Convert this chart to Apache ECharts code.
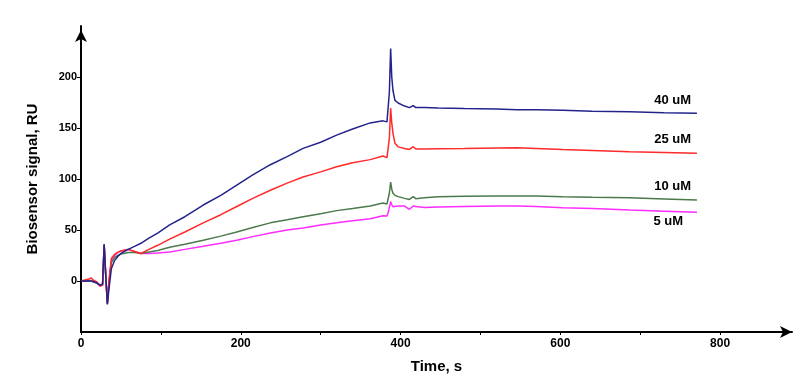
<!DOCTYPE html>
<html>
<head>
<meta charset="utf-8">
<script src="https://cdn.jsdelivr.net/npm/echarts@6/dist/echarts.min.js"></script>
<style>html,body{margin:0;padding:0;background:#fff}#c{width:800px;height:387px}</style>
</head>
<body>
<div id="c"></div>
<script>
// Time points (s)
var times = [0,10,13,15,20,24,27,29,31,33,
  35,38,42,46,50,59,67,75,85,96,
  111,130,153,175,195,215,237,258,278,300,
  320,340,362,378,383,384,386,387.6,389,390.5,
  393,397,405,411,416,419,430,447,480,520,
  546,570,603,640,687,730,771];

// Biosensor signal (RU) per concentration
var s40 = [0,0,0,-1,-2,-4,-3,36,5,-23,
  -8,12,20,24,27,31,34,37,42,47,
  55,63,74.5,84,94,104,114,122,130,136,
  143,149,155,157,156,157,185,228,200,187,
  177,174.5,171.5,170,172,170,170,169.6,169,168.6,
  168,168,167.5,166.5,166,165,164.4];
var s25 = [0,2,3,1,-1,-5,-4,36,5,-22,
  0,22,26,28,29.5,31,29,27,31,35,
  41,48,57,65,73,81,89,96,102,107,
  112,116,119,122.5,121,122.5,140,169.6,155,145,
  135,131.5,130,129,131.7,129.4,129.5,129.7,130,130.5,
  130.7,130,129,128,126.8,126,125.2];
var s10 = [0,0,0,-1,-2,-4,-4,35,5,-22,
  -2,18,23,25,26.5,28,28,27,28.5,30,
  33,36,40,44,48,52.5,57,60,63,66,
  69,71,73.5,76.5,75.5,77,86,97,90,86,
  84,82.7,81,80,82.7,80.7,81.5,82.7,83,83.3,
  83.3,83.3,82.5,82,81.7,80.5,79.4];
var s5 = [0,0,0,-1,-2,-5,-4,35,5,-22,
  0,20,25,28,29.5,31,29,27,27,27.5,
  28.5,31,34,37,40,43.5,47,50,52,55,
  57,59,61,64,63.7,65.7,72,77.8,75,72.9,
  73,73.5,73.5,70.3,73.5,73,72,72.5,73,73.5,
  73.5,73,71.9,71,69.6,68.5,67.3];

var seriesNames = ['40 uM','25 uM','10 uM','5 uM'];
var xTickLabels = [0,200,400,600,800];
var xMinorTicks = [0,100,200,300,400,500,600,700,800];
var yTickLabels = [0,50,100,150,200];

function zip(v){ return times.map(function(t,i){ return [t, v[i]]; }); }

var colors = ['#23238c','#ff2a2a','#4b7a4b','#ff2cff'];
var allVals = [s40, s25, s10, s5];
var font = 'Liberation Sans, Arial, sans-serif';

var chart = echarts.init(document.getElementById('c'), null, {renderer:'canvas'});
chart.setOption({
  animation:false,
  backgroundColor:'#fff',
  grid:{left:81, right:8, top:26, bottom:55, containLabel:false},
  xAxis:{
    type:'value', min:0, max:890,
    name:'Time, s', nameLocation:'middle', nameGap:27,
    nameTextStyle:{fontFamily:font, fontWeight:'bold', fontSize:15, color:'#000'},
    axisLine:{show:true, onZero:false, lineStyle:{color:'#000', width:2}, symbol:['none','arrow'], symbolSize:[9,12], symbolOffset:[0,0]},
    axisTick:{show:true, customValues:xMinorTicks, length:3, lineStyle:{color:'#000', width:1}},
    axisLabel:{customValues:xTickLabels, fontFamily:'Liberation Sans Narrow, Arial Narrow, sans-serif', fontWeight:'bold', fontSize:12, color:'#000', margin:6},
    splitLine:{show:false}
  },
  yAxis:{
    type:'value', min:-50, max:250,
    name:'Biosensor signal, RU', nameLocation:'middle', nameGap:41,
    nameTextStyle:{fontFamily:font, fontWeight:'bold', fontSize:15, color:'#000'},
    axisLine:{show:true, onZero:false, lineStyle:{color:'#000', width:2}, symbol:['none','arrow'], symbolSize:[9,12], symbolOffset:[0,-4]},
    axisTick:{show:true, customValues:yTickLabels, length:4, lineStyle:{color:'#000', width:1}},
    axisLabel:{customValues:yTickLabels, fontFamily:font, fontWeight:'bold', fontSize:11, color:'#000', margin:4},
    splitLine:{show:false}
  },
  series: seriesNames.map(function(n,i){
    return {name:n, type:'line', data:zip(allVals[i]), showSymbol:false, symbol:'none',
      lineStyle:{color:colors[i], width:1.5}, itemStyle:{color:colors[i]}, z:10-i};
  }),
  graphic:[
    {type:'text', right:109, top:94, style:{text:'40 uM', font:'bold 13px '+font, fill:'#000'}},
    {type:'text', right:109, top:133, style:{text:'25 uM', font:'bold 13px '+font, fill:'#000'}},
    {type:'text', right:109, top:180, style:{text:'10 uM', font:'bold 13px '+font, fill:'#000'}},
    {type:'text', right:117, top:215, style:{text:'5 uM', font:'bold 13px '+font, fill:'#000'}}
  ]
});
</script>
</body>
</html>
